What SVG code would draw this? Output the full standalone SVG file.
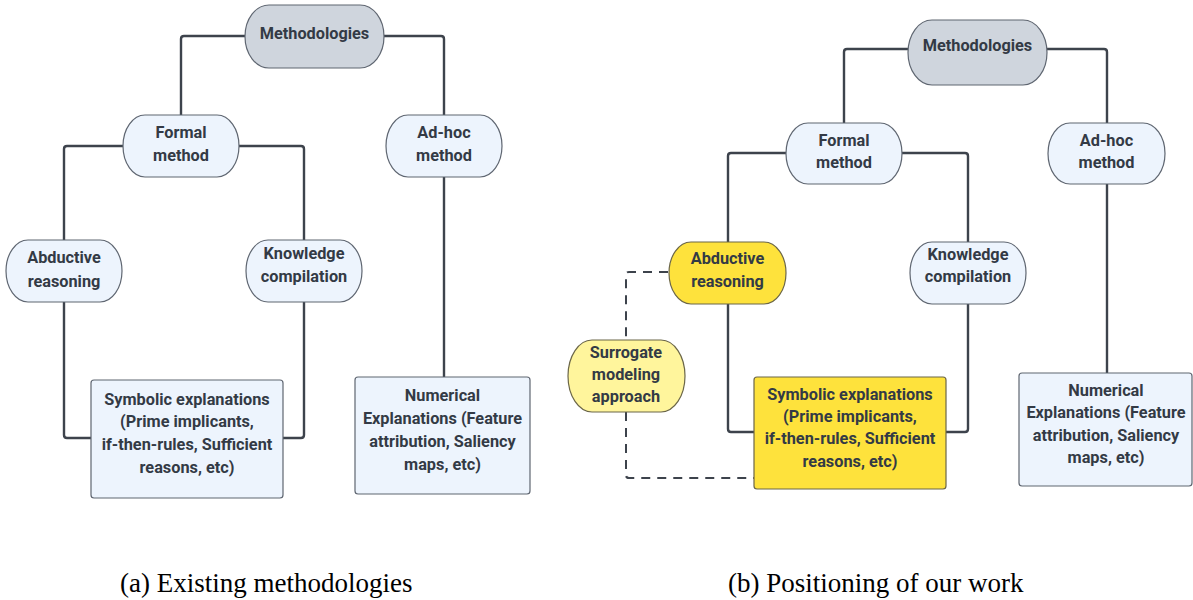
<svg xmlns="http://www.w3.org/2000/svg" width="1193" height="600" viewBox="0 0 1193 600">
  <style>
    .pill { fill: #edf4fd; stroke: #5f6671; stroke-width: 1.2; }
    .root { fill: #cfd5dd; stroke: #5f6671; stroke-width: 1.2; }
    .box { fill: #edf4fd; stroke: #5f6671; stroke-width: 1.2; }
    .hl { fill: #fee23c; stroke: #6b6648; stroke-width: 1.2; }
    .soft { fill: #fff59c; stroke: #6b6648; stroke-width: 1.2; }
    .lbl { font-family: Roboto, "Liberation Sans", sans-serif; font-weight: 700; font-size: 16.3px; fill: #333a45; text-anchor: middle; }
    .cap { font-family: "Liberation Serif", "Times New Roman", serif; font-size: 27px; fill: #000; }
    .wire { fill: none; stroke: #3d434c; stroke-width: 2.4; stroke-linejoin: round; }
    .dash { fill: none; stroke: #3d434c; stroke-width: 2; stroke-dasharray: 9 7; }
  </style>

  <!-- tree connectors -->
  <g id="connectors">
    <!-- (a) -->
    <path class="wire" d="M245 36 H184 Q181 36 181 39 V115"/>
    <path class="wire" d="M384 36 H441 Q444 36 444 39 V115"/>
    <path class="wire" d="M123 146 H67 Q64 146 64 149 V240"/>
    <path class="wire" d="M239 146 H301 Q304 146 304 149 V240"/>
    <path class="wire" d="M64 302 V435 Q64 438 67 438 H91"/>
    <path class="wire" d="M304 302 V435 Q304 438 301 438 H283"/>
    <path class="wire" d="M444 177 V377"/>
    <!-- (b) -->
    <path class="wire" d="M908 49 H847 Q844 49 844 52 V123"/>
    <path class="wire" d="M1047 49 H1104 Q1107 49 1107 52 V123"/>
    <path class="wire" d="M786 153 H731 Q728 153 728 156 V242"/>
    <path class="wire" d="M902 153 H965 Q968 153 968 156 V242"/>
    <path class="wire" d="M728 304 V429 Q728 432 731 432 H754"/>
    <path class="wire" d="M968 304 V429 Q968 432 965 432 H946"/>
    <path class="wire" d="M1107 184 V373"/>
    <path class="dash" d="M668 272 H629 Q626 272 626 275 V340"/>
    <path class="dash" d="M626 412 V475 Q626 478 629 478 H754"/>
  </g>

  <!-- (a) Existing methodologies -->
  <g id="a-methodologies">
    <rect class="root" x="245" y="5" width="139" height="63" rx="24" ry="31.5"/>
    <text class="lbl" x="314.5" y="39">Methodologies</text>
  </g>
  <g id="a-formal">
    <rect class="pill" x="123" y="115" width="116" height="62" rx="22" ry="31"/>
    <text class="lbl" x="181" y="138">Formal</text>
    <text class="lbl" x="181" y="161">method</text>
  </g>
  <g id="a-adhoc">
    <rect class="pill" x="386" y="115" width="116" height="62" rx="22" ry="31"/>
    <text class="lbl" x="444" y="138">Ad-hoc</text>
    <text class="lbl" x="444" y="161">method</text>
  </g>
  <g id="a-abductive">
    <rect class="pill" x="6" y="240" width="116" height="62" rx="22" ry="31"/>
    <text class="lbl" x="64" y="263">Abductive</text>
    <text class="lbl" x="64" y="287">reasoning</text>
  </g>
  <g id="a-knowledge">
    <rect class="pill" x="246" y="240" width="116" height="62" rx="22" ry="31"/>
    <text class="lbl" x="304" y="259">Knowledge</text>
    <text class="lbl" x="304" y="282">compilation</text>
  </g>
  <g id="a-symbolic">
    <rect class="box" x="91" y="380" width="192" height="118" rx="3"/>
    <text class="lbl" x="187" y="405">Symbolic explanations</text>
    <text class="lbl" x="187" y="427">(Prime implicants,</text>
    <text class="lbl" x="187" y="450">if-then-rules, Sufficient</text>
    <text class="lbl" x="187" y="473">reasons, etc)</text>
  </g>
  <g id="a-numerical">
    <rect class="box" x="355" y="377" width="175" height="117" rx="3"/>
    <text class="lbl" x="442.5" y="401">Numerical</text>
    <text class="lbl" x="442.5" y="424">Explanations (Feature</text>
    <text class="lbl" x="442.5" y="447">attribution, Saliency</text>
    <text class="lbl" x="442.5" y="470">maps, etc)</text>
  </g>

  <!-- (b) Positioning of our work -->
  <g id="b-methodologies">
    <rect class="root" x="908" y="20" width="139" height="65" rx="24" ry="32.5"/>
    <text class="lbl" x="977.5" y="51">Methodologies</text>
  </g>
  <g id="b-formal">
    <rect class="pill" x="786" y="123" width="116" height="61" rx="22" ry="30.5"/>
    <text class="lbl" x="844" y="146">Formal</text>
    <text class="lbl" x="844" y="168">method</text>
  </g>
  <g id="b-adhoc">
    <rect class="pill" x="1048" y="123" width="117" height="61" rx="22" ry="30.5"/>
    <text class="lbl" x="1106.5" y="146">Ad-hoc</text>
    <text class="lbl" x="1106.5" y="168">method</text>
  </g>
  <g id="b-abductive">
    <rect class="hl" x="669" y="242" width="117" height="62" rx="22" ry="31"/>
    <text class="lbl" x="727.5" y="264">Abductive</text>
    <text class="lbl" x="727.5" y="287">reasoning</text>
  </g>
  <g id="b-knowledge">
    <rect class="pill" x="910" y="242" width="116" height="62" rx="22" ry="31"/>
    <text class="lbl" x="968" y="260">Knowledge</text>
    <text class="lbl" x="968" y="282">compilation</text>
  </g>
  <g id="b-surrogate">
    <rect class="soft" x="568" y="340" width="117" height="72" rx="24" ry="36"/>
    <text class="lbl" x="626" y="358">Surrogate</text>
    <text class="lbl" x="626" y="380">modeling</text>
    <text class="lbl" x="626" y="402">approach</text>
  </g>
  <g id="b-symbolic">
    <rect class="hl" x="754" y="377" width="192" height="112" rx="3"/>
    <text class="lbl" x="850" y="400">Symbolic explanations</text>
    <text class="lbl" x="850" y="422">(Prime implicants,</text>
    <text class="lbl" x="850" y="444">if-then-rules, Sufficient</text>
    <text class="lbl" x="850" y="467">reasons, etc)</text>
  </g>
  <g id="b-numerical">
    <rect class="box" x="1019" y="373" width="173" height="113" rx="3"/>
    <text class="lbl" x="1106" y="396">Numerical</text>
    <text class="lbl" x="1106" y="418">Explanations (Feature</text>
    <text class="lbl" x="1106" y="441">attribution, Saliency</text>
    <text class="lbl" x="1106" y="463">maps, etc)</text>
  </g>

  <!-- captions -->
  <text class="cap" x="120" y="592">(a) Existing methodologies</text>
  <text class="cap" x="728" y="592">(b) Positioning of our work</text>
</svg>
